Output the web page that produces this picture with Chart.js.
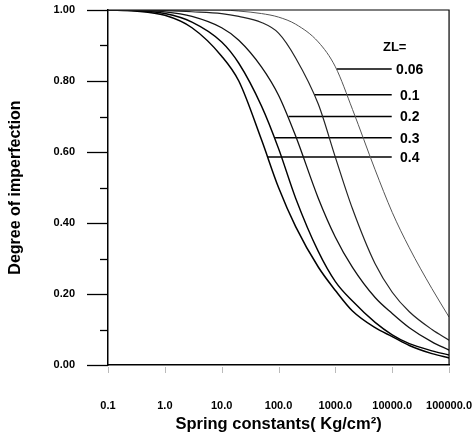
<!DOCTYPE html>
<html>
<head>
<meta charset="utf-8">
<script src="https://cdn.jsdelivr.net/npm/chart.js@4"></script>
<style>
  html, body { margin: 0; padding: 0; background: #fff; }
  #wrap { width: 472px; height: 440px; }
</style>
</head>
<body>
<div id="wrap"><canvas id="chart" width="472" height="440"></canvas></div>
<script>
// spring constant (Kg/cm2) sample points
const kValues = [0.1, 0.3, 1, 3, 10, 20, 50, 100, 200, 500, 1000, 2000, 5000, 10000, 20000, 50000, 100000];

// degree of imperfection for each ZL
const zl006 = [1.0, 1.0, 1.0, 1.0, 1.0, 0.997, 0.99, 0.98, 0.96, 0.91, 0.84, 0.72, 0.55, 0.43, 0.33, 0.215, 0.135];
const zl01  = [1.0, 1.0, 0.998, 0.995, 0.99, 0.982, 0.965, 0.935, 0.865, 0.735, 0.585, 0.44, 0.285, 0.205, 0.15, 0.1, 0.07];
const zl02  = [1.0, 0.999, 0.995, 0.982, 0.95, 0.915, 0.84, 0.76, 0.645, 0.47, 0.36, 0.275, 0.19, 0.145, 0.105, 0.065, 0.042];
const zl03  = [1.0, 0.998, 0.99, 0.966, 0.91, 0.85, 0.73, 0.61, 0.47, 0.32, 0.235, 0.18, 0.12, 0.085, 0.06, 0.04, 0.028];
const zl04  = [1.0, 0.997, 0.985, 0.95, 0.87, 0.80, 0.635, 0.50, 0.39, 0.276, 0.21, 0.152, 0.105, 0.08, 0.055, 0.032, 0.02];

// curve labels and where their leader lines touch the curves
const zlLabels = ['0.06', '0.1', '0.2', '0.3', '0.4'];
const leaderStartK = [1050, 430, 150, 87, 65];
const leaderY = [0.834, 0.761, 0.70, 0.64, 0.586];
const leaderEndK = 9800;

const xTicks = [0.1, 1, 10, 100, 1000, 10000, 100000];
const yTicks = [0, 0.1, 0.2, 0.3, 0.4, 0.5, 0.6, 0.7, 0.8, 0.9, 1.0];

const FONT = 'Arial, "Liberation Sans", Helvetica, sans-serif';

const isMajorY = (v) => Math.round(v * 10) % 2 === 0;
const toPoints = (ys) => ys.map((y, i) => ({ x: kValues[i], y: y }));

const curveSets = [
  { data: toPoints(zl006), borderColor: '#555', borderWidth: 1 },
  { data: toPoints(zl01), borderColor: '#222', borderWidth: 1.2 },
  { data: toPoints(zl02), borderColor: '#111', borderWidth: 1.3 },
  { data: toPoints(zl03), borderColor: '#000', borderWidth: 1.4 },
  { data: toPoints(zl04), borderColor: '#000', borderWidth: 1.5 },
].map((d, i) => Object.assign(d, {
  label: 'ZL ' + zlLabels[i],
  pointRadius: 0,
  cubicInterpolationMode: 'monotone',
  fill: false,
}));

const leaderSets = zlLabels.map((lab, i) => ({
  label: 'leader ' + lab,
  data: [{ x: leaderStartK[i], y: leaderY[i] }, { x: leaderEndK, y: leaderY[i] }],
  borderColor: '#000',
  borderWidth: 1.5,
  pointRadius: 0,
  tension: 0,
}));

// box, axis ticks and curve labels
const decorPlugin = {
  id: 'decor',
  afterDraw(chart) {
    const { ctx, chartArea: a, scales } = chart;
    ctx.save();
    ctx.strokeStyle = '#000';
    ctx.lineWidth = 1.2;
    ctx.beginPath();
    ctx.moveTo(a.left, a.top);
    ctx.lineTo(a.right, a.top);
    ctx.lineTo(a.right, a.bottom);
    ctx.stroke();

    // y ticks: long at labelled values, short in between
    ctx.lineWidth = 1.3;
    yTicks.forEach((v) => {
      const y = Math.round(scales.y.getPixelForValue(v)) + 0.5;
      ctx.beginPath();
      ctx.moveTo(a.left - (isMajorY(v) ? 21 : 8), y);
      ctx.lineTo(a.left, y);
      ctx.stroke();
    });

    // faint decade ticks under the x axis
    ctx.strokeStyle = '#bbb';
    ctx.lineWidth = 1;
    xTicks.forEach((v) => {
      const x = Math.round(scales.x.getPixelForValue(v)) + 0.5;
      ctx.beginPath();
      ctx.moveTo(x, a.bottom + 2);
      ctx.lineTo(x, a.bottom + 8);
      ctx.stroke();
    });

    ctx.fillStyle = '#000';
    ctx.textBaseline = 'middle';
    ctx.textAlign = 'center';
    ctx.font = 'bold 14px ' + FONT;
    const xEnd = scales.x.getPixelForValue(leaderEndK);
    zlLabels.forEach((lab, i) => {
      ctx.fillText(lab, xEnd + 18, scales.y.getPixelForValue(leaderY[i]) + 1);
    });
    ctx.font = 'bold 13px ' + FONT;
    ctx.fillText('ZL=', xEnd + 3, scales.y.getPixelForValue(leaderY[0]) - 22);
    ctx.restore();
  },
};

new Chart(document.getElementById('chart'), {
  type: 'line',
  data: { datasets: curveSets.concat(leaderSets) },
  options: {
    responsive: false,
    animation: false,
    layout: { padding: { left: 6, right: 0, top: 10, bottom: 6 } },
    plugins: {
      legend: { display: false },
      tooltip: { enabled: false },
    },
    scales: {
      x: {
        type: 'logarithmic',
        min: 0.1,
        max: 100000,
        afterBuildTicks: (scale) => {
          scale.ticks = xTicks.map((v) => ({ value: v }));
        },
        ticks: {
          autoSkip: false,
          maxRotation: 0,
          padding: 0,
          color: '#000',
          font: { family: FONT, size: 11, weight: 'bold' },
          callback: (v) => Number(v).toFixed(1),
        },
        grid: { drawOnChartArea: false, tickLength: 34, tickColor: 'rgba(0,0,0,0)' },
        border: { color: '#000', width: 1.5 },
        title: {
          display: true,
          text: 'Spring constants( Kg/cm²)',
          color: '#000',
          font: { family: FONT, size: 16.5, weight: 'bold' },
          padding: { top: 2, bottom: 0 },
        },
      },
      y: {
        min: 0,
        max: 1,
        afterBuildTicks: (scale) => {
          scale.ticks = yTicks.map((v) => ({ value: v }));
        },
        ticks: {
          autoSkip: false,
          padding: 0,
          color: '#000',
          font: { family: FONT, size: 11, weight: 'bold' },
          callback: (v) => (isMajorY(v) ? Number(v).toFixed(2) : ''),
        },
        grid: { drawOnChartArea: false, tickLength: 33, tickColor: 'rgba(0,0,0,0)' },
        border: { color: '#000', width: 1.5 },
        title: {
          display: true,
          text: 'Degree of imperfection',
          color: '#000',
          font: { family: FONT, size: 16, weight: 'bold' },
          padding: { top: 0, bottom: 28.4 },
        },
      },
    },
  },
  plugins: [decorPlugin],
});
</script>
</body>
</html>
